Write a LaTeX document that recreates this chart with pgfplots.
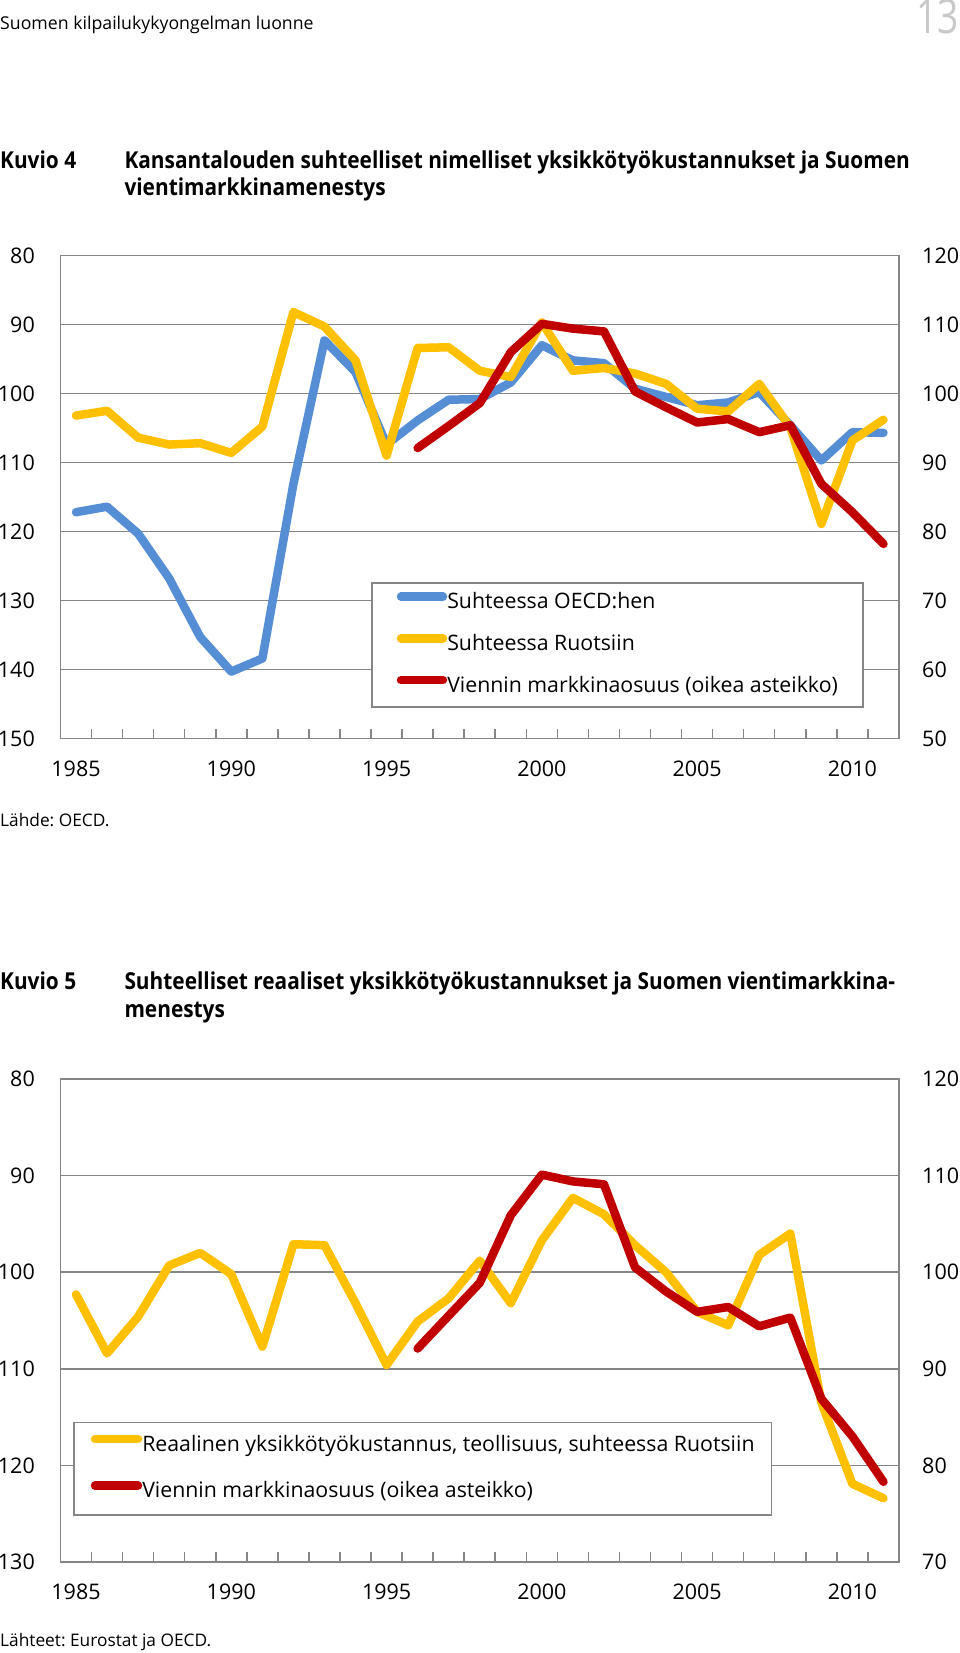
\documentclass[border=0pt]{standalone}
\usepackage{fontspec}
\setmainfont{Open Sans}
\usepackage{pgfplots}
\pgfplotsset{compat=1.18}
\definecolor{axgray}{RGB}{134,134,134}
\definecolor{cblue}{RGB}{85,142,213}
\definecolor{cyellow}{RGB}{255,192,0}
\definecolor{cred}{RGB}{192,0,0}
\definecolor{pagegray}{RGB}{200,200,200}
\newcommand{\tickfont}{\fontsize{21.5}{24}\selectfont}
\newcommand{\legfont}{\fontsize{21.3}{25}\selectfont}
\newcommand{\titlefont}{\fontsize{23.3}{28}\selectfont\bfseries}
\newcommand{\smallfont}{\fontsize{17.3}{20}\selectfont}
\newcommand{\ttl}[1]{\scalebox{0.895}[1]{#1}}
\frenchspacing

\pgfplotsset{
  legA/.style={legend image code/.code={\draw[##1, line width=8.5pt, line cap=round] (4.25pt,7pt) -- (37.75pt,7pt); \path (0pt,7pt) -- (42pt,7pt);}},
  legB/.style={legend image code/.code={\draw[##1, line width=8.5pt, line cap=round] (4.25pt,7pt) -- (38.75pt,7pt); \path (0pt,7pt) -- (43pt,7pt);}},
  base/.style={
    scale only axis, width=838.5pt, height=483pt,
    xmin=1984.5, xmax=2011.5,
    /pgf/number format/assume math mode=true,
    /pgf/number format/1000 sep={},
    tick label style={font=\tickfont},
    axis line style={draw=axgray, line width=1.5pt},
    major tick length=0pt, minor tick length=10pt, tick align=inside,
    tick style={draw=axgray, line width=1.5pt},
    minor tick style={draw=axgray, line width=1.5pt},
    every axis plot/.append style={line width=8.5pt, line join=round, line cap=round},
    legend cell align=left,
  },
  leftax/.style={
    base, y dir=reverse,
    ymajorgrids, grid style={draw=axgray, line width=1.5pt},
    xtick={1985,1990,...,2010}, minor xtick={1985.5,1986.5,...,2010.5},
    xtick pos=left, ytick pos=left,
    xticklabel style={inner sep=0pt, anchor=north, yshift=-22pt},
    yticklabel style={inner sep=0pt, anchor=east, xshift=-25.5pt},
  },
  rightax/.style={
    base, axis y line*=right, axis x line=none,
    yticklabel style={inner sep=0pt, anchor=west, xshift=23pt},
  },
}

\begin{document}
\begin{tikzpicture}
\useasboundingbox (0pt,0pt) rectangle (960pt,-1653pt);

% page header
\node[anchor=base west, inner sep=0pt, font=\fontsize{17.7}{20}\selectfont] at (0pt,-29.3pt) {Suomen kilpailukykyongelman luonne};
\node[anchor=base east, inner sep=0pt, text=pagegray] at (959pt,-34pt) {\scalebox{0.78}[1]{\fontsize{47.6}{50}\selectfont 13}};

% ---------- Kuvio 4 ----------
\node[anchor=base west, inner sep=0pt, font=\titlefont] at (0pt,-168.3pt) {\ttl{Kuvio 4}};
\node[anchor=base west, inner sep=0pt, font=\titlefont] at (124.3pt,-168.3pt) {\ttl{Kansantalouden suhteelliset nimelliset yksikkötyökustannukset ja Suomen}};
\node[anchor=base west, inner sep=0pt, font=\titlefont] at (124.3pt,-196pt) {\ttl{vientimarkkinamenestys}};

\begin{axis}[leftax, at={(60.5pt,-738.5pt)}, anchor=south west,
  ymin=80, ymax=150, ytick={80,90,...,150}]
\addplot[cblue] coordinates {
(1985,117.2) (1986,116.4) (1987,120.3) (1988,126.8) (1989,135.3) (1990,140.3)
(1991,138.4) (1992,113.1) (1993,92.3) (1994,96.9) (1995,107.4) (1996,103.9)
(1997,100.9) (1998,100.8) (1999,98.4) (2000,93.0) (2001,95.2) (2002,95.6)
(2003,99.3) (2004,100.5) (2005,101.7) (2006,101.3) (2007,99.8) (2008,104.6)
(2009,109.7) (2010,105.6) (2011,105.7)};
\addplot[cyellow] coordinates {
(1985,103.2) (1986,102.5) (1987,106.4) (1988,107.4) (1989,107.2) (1990,108.6)
(1991,104.8) (1992,88.2) (1993,90.3) (1994,95.2) (1995,109.0) (1996,93.4)
(1997,93.3) (1998,96.7) (1999,97.6) (2000,89.7) (2001,96.7) (2002,96.3)
(2003,97.1) (2004,98.6) (2005,102.2) (2006,102.6) (2007,98.6) (2008,104.9)
(2009,118.9) (2010,106.8) (2011,103.8)};
\end{axis}

\begin{axis}[rightax, at={(60.5pt,-738.5pt)}, anchor=south west,
  ymin=50, ymax=120, ytick={50,60,...,120},
  legend style={at={(0.3703,0.324)}, anchor=north west, draw=axgray, line width=1.5pt,
    fill=white, font=\legfont, inner xsep=25pt, inner ysep=9.7pt,
    row sep=20.5pt, column sep=0pt,
    nodes={inner sep=0pt, text height=15pt, text depth=5pt}}]
\addlegendimage{cblue, legA}
\addlegendentry{Suhteessa OECD:hen}
\addlegendimage{cyellow, legA}
\addlegendentry{Suhteessa Ruotsiin}
\addplot[cred, legA] coordinates {
(1996,92.1) (1997,95.3) (1998,98.6) (1999,106.0) (2000,110.1) (2001,109.4)
(2002,109.0) (2003,100.3) (2004,98.0) (2005,95.8) (2006,96.3) (2007,94.4)
(2008,95.4) (2009,86.9) (2010,82.8) (2011,78.2)};
\addlegendentry{Viennin markkinaosuus (oikea asteikko)}
\end{axis}

\node[anchor=base west, inner sep=0pt, font=\smallfont] at (0pt,-826pt) {Lähde: OECD.};

% ---------- Kuvio 5 ----------
\node[anchor=base west, inner sep=0pt, font=\titlefont] at (0pt,-989.5pt) {\ttl{Kuvio 5}};
\node[anchor=base west, inner sep=0pt, font=\titlefont] at (124.3pt,-989.5pt) {\ttl{Suhteelliset reaaliset yksikkötyökustannukset ja Suomen vientimarkkina-}};
\node[anchor=base west, inner sep=0pt, font=\titlefont] at (124.3pt,-1017.5pt) {\ttl{menestys}};

\begin{axis}[leftax, at={(60.5pt,-1562pt)}, anchor=south west,
  ymin=80, ymax=130, ytick={80,90,...,130}]
\addplot[cyellow] coordinates {
(1985,102.3) (1986,108.4) (1987,104.6) (1988,99.3) (1989,98.0) (1990,100.2)
(1991,107.7) (1992,97.1) (1993,97.2) (1994,103.2) (1995,109.6) (1996,105.1)
(1997,102.7) (1998,98.8) (1999,103.2) (2000,96.7) (2001,92.3) (2002,94.0)
(2003,97.2) (2004,100.0) (2005,104.1) (2006,105.5) (2007,98.2) (2008,96.0)
(2009,113.5) (2010,121.9) (2011,123.4)};
\end{axis}

\begin{axis}[rightax, at={(60.5pt,-1562pt)}, anchor=south west,
  ymin=70, ymax=120, ytick={70,80,...,120},
  legend style={at={(0.01527,0.2905)}, anchor=north west, draw=axgray, line width=1.5pt,
    fill=white, font=\legfont, inner xsep=16.7pt, inner ysep=12.3pt,
    row sep=25.3pt, column sep=0pt,
    nodes={inner sep=0pt, text height=15pt, text depth=5pt}}]
\addlegendimage{cyellow, legB}
\addlegendentry{Reaalinen yksikkötyökustannus, teollisuus, suhteessa Ruotsiin}
\addplot[cred, legB] coordinates {
(1996,92.1) (1997,95.5) (1998,98.9) (1999,105.9) (2000,110.1) (2001,109.4)
(2002,109.1) (2003,100.5) (2004,98.0) (2005,95.9) (2006,96.4) (2007,94.4)
(2008,95.3) (2009,86.9) (2010,83.0) (2011,78.3)};
\addlegendentry{Viennin markkinaosuus (oikea asteikko)}
\end{axis}

\node[anchor=base west, inner sep=0pt, font=\smallfont] at (0pt,-1646.7pt) {Lähteet: Eurostat ja OECD.};
\end{tikzpicture}
\end{document}
